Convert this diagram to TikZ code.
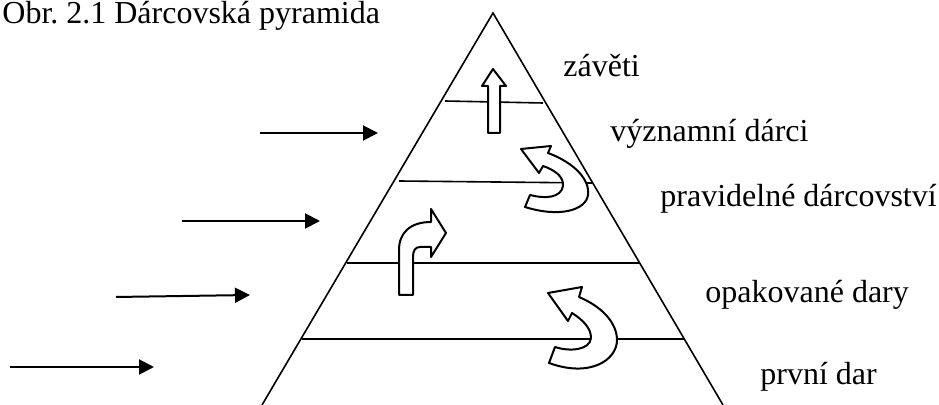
\documentclass[tikz,border=0pt]{standalone}
\usepackage{fontspec}
\setmainfont{Liberation Serif}
\usetikzlibrary{arrows.meta}

\begin{document}
\begin{tikzpicture}[x=0.5pt, y=-0.5pt,
    side/.style={line width=0.8pt},
    feed/.style={line width=1pt, -{Triangle[length=7.5pt, width=7.5pt]}},
    move/.style={draw, fill=white, line width=1pt, line join=round},
    lbl/.style={anchor=base west, inner sep=0pt, font=\fontsize{16}{19}\selectfont}
    ]
    \useasboundingbox (0,0) rectangle (939,405);
    % pyramid
    \coordinate (top) at (493,13);
    \coordinate (bl) at (262,405);
    \coordinate (br) at (723,405);
    \draw[side] (bl) -- (top) -- (br);
    % levels
    \foreach \n/\xa/\ya/\xb/\yb in {1/445/101/543/103, 2/399/181/592/183,
        3/347/263/639/263, 4/302/339/685/339} {
      \coordinate (lev\n-a) at (\xa,\ya);
      \coordinate (lev\n-b) at (\xb,\yb);
      \draw[side] (lev\n-a) -- (lev\n-b);
    }
    % arrows from the left
    \foreach \n/\xa/\ya/\xb/\yb in {1/260/133/378/133, 2/182/221/320/221,
        3/116/297/250/295, 4/10/367/154/367} {
      \coordinate (in\n-a) at (\xa,\ya);
      \coordinate (in\n-b) at (\xb,\yb);
      \draw[feed] (in\n-a) -- (in\n-b);
    }
    % block arrows
    \draw[move] (488,133) -- (488,86) -- (482,86) -- (493,69) -- (506,86)
      -- (500,86) -- (500,133) -- cycle;
    \draw[move] (521,149) -- (551,146) -- (548,153)
      .. controls (575,163) and (590,180) .. (588,195)
      .. controls (586,210) and (560,218) .. (525,207)
      -- (530,195)
      .. controls (545,199) and (561,198) .. (563,186)
      .. controls (564,177) and (555,170) .. (543,166)
      -- (539,173) -- cycle;
    \draw[move] (399,295) -- (399,250)
      .. controls (399,233) and (410,222) .. (431,222)
      -- (431,209) -- (446,233) -- (431,257) -- (431,247) -- (420,247)
      .. controls (415,247) and (413,251) .. (413,257)
      -- (413,295) -- cycle;
    \draw[move] (548,293) -- (582,287) -- (579,297)
      .. controls (605,308) and (617,325) .. (617,340)
      .. controls (617,360) and (590,378) .. (549,363)
      -- (555,347)
      .. controls (570,352) and (590,350) .. (591,338)
      .. controls (591,328) and (583,320) .. (572,313)
      -- (568,321) -- cycle;
    % labels
    \node[lbl] (title) at (2,24) {Obr.\ 2.1 Dárcovská pyramida};
    \node[lbl] (zaveti) at (563,77) {závěti};
    \node[lbl] (vyznamni) at (610,142) {významní dárci};
    \node[lbl] (pravidelne) at (660,207) {pravidelné dárcovství};
    \node[lbl] (opakovane) at (705,303) {opakované dary};
    \node[lbl] (prvni) at (760,385) {první dar};
  \end{tikzpicture}
\end{document}
